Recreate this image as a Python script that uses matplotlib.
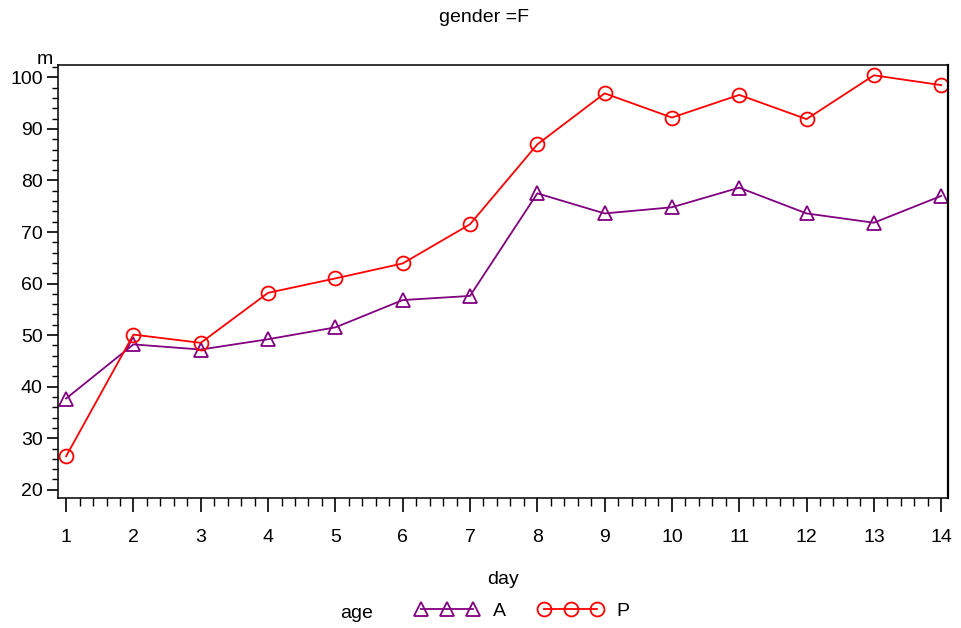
import matplotlib.pyplot as plt
from matplotlib.ticker import MultipleLocator

plt.rcParams['font.family'] = ['Liberation Sans', 'DejaVu Sans']

# Mean response by day, one series per age group
days = list(range(1, 15))
m_age_a = [37.7, 48.2, 47.2, 49.2, 51.5, 56.8, 57.6, 77.5, 73.6, 74.8, 78.6, 73.6, 71.8, 77.0]
m_age_p = [26.5, 50.1, 48.5, 58.2, 61.0, 63.9, 71.5, 87.0, 96.9, 92.2, 96.6, 91.9, 100.4, 98.5]
age_labels = ['A', 'P']
title_text = 'gender =F'

PURPLE = '#800080'
RED = '#ff0000'

fig = plt.figure(figsize=(9.61, 6.28), dpi=100)
ax = fig.add_axes([0.0604, 0.207, 0.926, 0.6895])

ax.plot(days, m_age_a, color=PURPLE, lw=1.3, marker='^', ms=10,
        mfc='none', mec=PURPLE, mew=1.3, label=age_labels[0])
ax.plot(days, m_age_p, color=RED, lw=1.3, marker='o', ms=10,
        mfc='none', mec=RED, mew=1.3, label=age_labels[1])

ax.set_xlim(0.88, 14.1)
ax.set_ylim(18.4, 102.4)

ax.xaxis.set_major_locator(MultipleLocator(1))
ax.xaxis.set_minor_locator(MultipleLocator(0.2))
ax.yaxis.set_major_locator(MultipleLocator(10))
ax.yaxis.set_minor_locator(MultipleLocator(2))
ax.set_yticks(range(20, 101, 10))

ax.tick_params(axis='x', which='major', direction='out', length=10, width=1.2,
               labelsize=14, pad=12)
ax.tick_params(axis='x', which='minor', direction='out', length=6, width=1.0)
ax.tick_params(axis='y', which='major', direction='out', length=8, width=1.2,
               labelsize=14, pad=3)
ax.tick_params(axis='y', which='minor', direction='out', length=4, width=1.0)

for s in ax.spines.values():
    s.set_linewidth(1.1)
ax.spines['right'].set_linewidth(1.6)

ax.set_xlabel('day', fontsize=14, labelpad=18)
fig.text(45 / 961, 1 - 60 / 628, 'm', fontsize=14, ha='center', va='center')
fig.text(484 / 961, 1 - 18 / 628, title_text, fontsize=14, ha='center', va='center')

# legend row at the bottom
fig.text(357 / 961, 1 - 613 / 628, 'age', fontsize=14, ha='center', va='center')
fig.legend(loc='center', bbox_to_anchor=(522 / 961, 1 - 611 / 628), ncol=2,
           frameon=False, numpoints=3, handlelength=3.3, fontsize=14,
           columnspacing=1.7, handletextpad=0.7, borderpad=0, borderaxespad=0)

fig.savefig('out.png', dpi=100)
